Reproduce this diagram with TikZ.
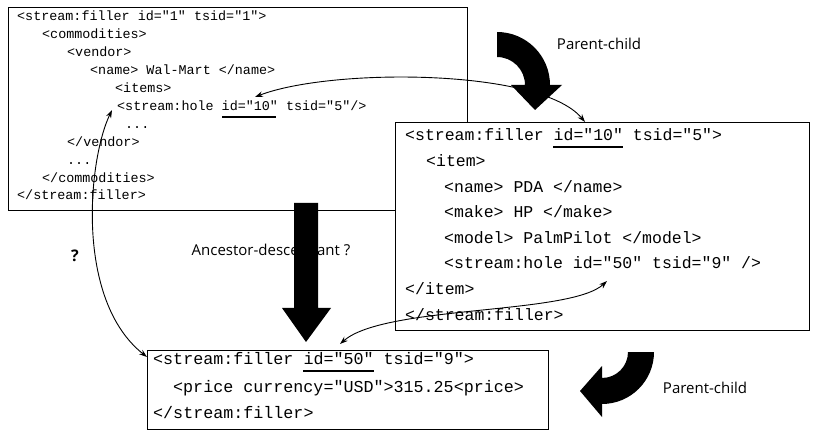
\documentclass[tikz,border=0pt]{standalone}
\usepackage{fontspec}
\setmonofont{Liberation Mono}
\setsansfont{Open Sans}
\usetikzlibrary{arrows.meta}
\begin{document}
\begin{tikzpicture}[x=1pt,y=1pt,
  codeA/.style={anchor=base west,inner sep=0pt,font=\ttfamily\fontsize{13.4}{16}\selectfont},
  codeB/.style={anchor=base west,inner sep=0pt,font=\ttfamily\fontsize{16.5}{20}\selectfont},
  codeC/.style={anchor=base west,inner sep=0pt,font=\ttfamily\fontsize{16.7}{20}\selectfont},
  box/.style={draw,line width=1.1pt,fill=white,anchor=north west,inner sep=0pt},
  lbl/.style={inner sep=0pt,font=\sffamily\fontsize{15}{18}\selectfont},
  bigarrow/.style={fill=black},
  link/.style={line width=0.9pt,{Stealth[length=8pt,width=5.5pt]}-{Stealth[length=8pt,width=5.5pt]}},
  uline/.style={line width=1.5pt}]
\useasboundingbox (0,0) rectangle (814,-430);

% ---------- box 1 ----------
\node[box,minimum width=459pt,minimum height=203pt] (b1) at (8,-7) {};
\node[codeA] (a1) at (17,-21) {<stream:filler id="1" tsid="1">};
\node[codeA] (a2) at (42,-38.9) {<commodities>};
\node[codeA] (a3) at (67,-56.8) {<vendor>};
\node[codeA] (a4) at (90,-74.7) {<name> Wal-Mart </name>};
\node[codeA] (a5) at (115,-92.6) {<items>};
\node[codeA] (a6) at (117,-110.5) {<stream:hole id="10" tsid="5"/>};
\node[codeA] (a7) at (125,-128.4) {...};
\node[codeA] (a8) at (67,-146.3) {</vendor>};
\node[codeA] (a9) at (67,-164.2) {...};
\node[codeA] (a10) at (42,-182.1) {</commodities>};
\node[codeA] (a11) at (17,-200) {</stream:filler>};
\draw[uline] (222,-117) -- (276,-117);

% ---------- box 2 ----------
\node[box,minimum width=414pt,minimum height=208pt] (b2) at (395,-122) {};
\node[codeB] (c1) at (405,-141) {<stream:filler id="10" tsid="5">};
\node[codeB] (c2) at (426,-166.6) {<item>};
\node[codeB] (c3) at (444,-192.2) {<name> PDA </name>};
\node[codeB] (c4) at (444,-217.8) {<make> HP </make>};
\node[codeB] (c5) at (444,-243.4) {<model> PalmPilot </model>};
\node[codeB] (c6) at (444,-269) {<stream:hole id="50" tsid="9" />};
\node[codeB] (c7) at (405,-294.6) {</item>};
\node[codeB] (c8) at (405,-320.2) {</stream:filler>};
\draw[uline] (553,-147) -- (623,-147);

% ---------- box 3 ----------
\node[box,minimum width=401pt,minimum height=79pt] (b3) at (147,-350) {};
\node[codeC] (d1) at (153,-364) {<stream:filler id="50" tsid="9">};
\node[codeC] (d2) at (173,-392) {<price currency="USD">315.25<price>};
\node[codeC] (d3) at (153,-418) {</stream:filler>};
\draw[uline] (303,-371) -- (374,-371);

% ---------- labels ----------
\node[lbl] (pc1) at (599,-44) {Parent-child};
\node[lbl] (pc2) at (705,-388) {Parent-child};
\node[lbl] (ad) at (271,-250) {Ancestor-descendant ?};
\node[lbl,font=\sffamily\bfseries\fontsize{16}{19}\selectfont] (q) at (75,-256) {?};

% ---------- big black arrows ----------
\fill[bigarrow] (497,-32) arc[start angle=90,end angle=0,radius=53]
  -- (562,-85) -- (535,-110) -- (511,-85) -- (525,-85)
  arc[start angle=0,end angle=90,radius=28] -- cycle;
\fill[bigarrow] (628,-352) -- (654,-352) arc[start angle=0,end angle=-90,radius=52]
  -- (602,-417) -- (580,-391) -- (602,-366) -- (602,-378)
  arc[start angle=-90,end angle=0,radius=26] -- cycle;
\fill[bigarrow] (294,-203) -- (318,-203) -- (318,-308) -- (331,-308)
  -- (306,-342) -- (282,-308) -- (294,-308) -- cycle;

% ---------- thin links ----------
\coordinate (h10) at (255,-97);
\coordinate (f10) at (585,-122);
\coordinate (h50) at (607,-281);
\coordinate (f50) at (340,-344);
\coordinate (hole) at (112,-110);
\coordinate (fill50) at (147,-357);
\draw[link] (h10) .. controls (330,-68) and (540,-68) .. (f10);
\draw[link] (h50) .. controls (570,-315) and (385,-305) .. (f50);
\draw[link] (hole) .. controls (88,-160) and (75,-300) .. (fill50);
\end{tikzpicture}
\end{document}
